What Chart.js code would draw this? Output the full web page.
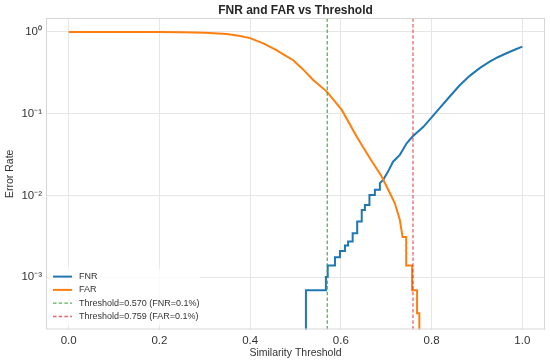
<!DOCTYPE html>
<html>
<head>
<meta charset="utf-8">
<script src="https://cdn.jsdelivr.net/npm/chart.js@4.4.0/dist/chart.umd.min.js"></script>
<style>
  html, body { margin: 0; padding: 0; background: #fff; }
</style>
</head>
<body>
<canvas id="errChart" width="550" height="362"></canvas>
<script>
// values (threshold sweep)
var fnrThresh = [0, 0.523, 0.523, 0.567, 0.567, 0.571, 0.571, 0.587, 0.587, 0.598, 0.598, 0.609, 0.609,
  0.616, 0.616, 0.626, 0.626, 0.636, 0.636, 0.646, 0.646, 0.653, 0.653, 0.663, 0.663, 0.675, 0.675,
  0.686, 0.686, 0.693, 0.704, 0.715, 0.730, 0.745, 0.758, 0.782, 0.811, 0.840, 0.862, 0.884, 0.906,
  0.928, 0.946, 0.965, 0.983, 1.0];
var fnrRate = [0, 0, 0.00069, 0.00069, 0.0010, 0.0010, 0.00138, 0.00138, 0.00175, 0.00175, 0.00209, 0.00209, 0.00243,
  0.00243, 0.00272, 0.00272, 0.00344, 0.00344, 0.00478, 0.00478, 0.0066, 0.0066, 0.0076, 0.0076, 0.0101, 0.0101, 0.0117,
  0.0117, 0.0141, 0.0154, 0.0195, 0.0258, 0.0313, 0.0434, 0.0524, 0.069, 0.106, 0.162, 0.222, 0.29, 0.36,
  0.432, 0.49, 0.548, 0.605, 0.66];

var farThresh = [0, 0.1, 0.2, 0.25, 0.3, 0.348, 0.375, 0.4, 0.43, 0.458, 0.475, 0.495, 0.515, 0.539, 0.569,
  0.602, 0.635, 0.664, 0.69, 0.712, 0.719, 0.730, 0.736, 0.744, 0.744, 0.757, 0.757, 0.768, 0.768,
  0.773, 0.773, 1.0];
var farRate = [1, 1, 0.995, 0.99, 0.975, 0.945, 0.90, 0.84, 0.72, 0.60, 0.525, 0.45, 0.355, 0.258, 0.186,
  0.111, 0.052, 0.0284, 0.017, 0.0096, 0.008, 0.005, 0.0031, 0.0031, 0.00138, 0.00138, 0.00069, 0.00069, 0.00036,
  0.00036, 0, 0];

var opThresh = [0.570, 0.759];
var opLabels = ['Threshold=0.570 (FNR=0.1%)', 'Threshold=0.759 (FAR=0.1%)'];

var xTicks = [0, 0.2, 0.4, 0.6, 0.8, 1.0];
var yTicks = [1e-3, 1e-2, 1e-1, 1];

var X_MIN = -0.05, X_MAX = 1.05;
var Y_MIN = 2.28e-4, Y_MAX = 1.48;

var FONT = "'Liberation Sans', Arial, sans-serif";
var SUP = { '0': '\u2070', '1': '\u00b9', '2': '\u00b2', '3': '\u00b3', '-': '\u207b' };

// zero rates fall off the log axis, like matplotlib's clipping
function toPoints(xs, ys) {
  return xs.map(function (x, i) {
    return { x: x, y: ys[i] > 0 ? ys[i] : 1e-9 };
  });
}

function vline(t) {
  return [{ x: t, y: Y_MIN }, { x: t, y: Y_MAX }];
}

// frame + in-axes legend (lower left, like the original)
var axesDecor = {
  id: 'axesDecor',
  afterLayout: function (chart) {
    // centre the title over the plot, not the canvas
    if (chart.titleBlock) {
      chart.titleBlock.left = chart.chartArea.left;
      chart.titleBlock.right = chart.chartArea.right;
    }
  },
  afterDatasetsDraw: function (chart) {
    var ctx = chart.ctx, a = chart.chartArea;
    ctx.save();
    ctx.strokeStyle = '#d6d6d6';
    ctx.lineWidth = 1;
    ctx.strokeRect(a.left + 0.5, a.top + 0.5, a.right - a.left - 1, a.bottom - a.top - 1);

    var rowH = 13.3;
    var sets = chart.data.datasets;
    var x0 = a.left + 7;
    var yLast = a.bottom - 13;
    var yFirst = yLast - rowH * (sets.length - 1);

    ctx.fillStyle = 'rgba(255,255,255,0.8)';
    ctx.fillRect(a.left + 2, yFirst - 8, 152, rowH * (sets.length - 1) + 17);

    ctx.font = '9px ' + FONT;
    ctx.textBaseline = 'middle';
    sets.forEach(function (ds, i) {
      var y = yFirst + i * rowH;
      ctx.beginPath();
      ctx.strokeStyle = ds.borderColor;
      ctx.lineWidth = ds.borderWidth;
      ctx.setLineDash(ds.borderDash || []);
      ctx.moveTo(x0, y);
      ctx.lineTo(x0 + 19, y);
      ctx.stroke();
      ctx.setLineDash([]);
      ctx.fillStyle = '#333';
      ctx.fillText(ds.label, x0 + 26, y);
    });
    ctx.restore();
  }
};

var errChart = new Chart(document.getElementById('errChart'), {
  type: 'line',
  data: {
    datasets: [{
      label: 'FNR',
      data: toPoints(fnrThresh, fnrRate),
      borderColor: '#1f77b4',
      borderWidth: 2,
      order: 4
    }, {
      label: 'FAR',
      data: toPoints(farThresh, farRate),
      borderColor: '#ff7f0e',
      borderWidth: 2,
      order: 3
    }, {
      label: opLabels[0],
      data: vline(opThresh[0]),
      borderColor: 'rgba(44,160,44,0.8)',
      borderWidth: 1.3,
      borderDash: [3.5, 2.2],
      order: 2
    }, {
      label: opLabels[1],
      data: vline(opThresh[1]),
      borderColor: 'rgba(214,39,40,0.7)',
      borderWidth: 1.3,
      borderDash: [3.5, 2.2],
      order: 1
    }]
  },
  options: {
    responsive: false,
    animation: false,
    devicePixelRatio: 1,
    elements: { point: { radius: 0 }, line: { tension: 0, fill: false } },
    layout: { padding: { left: 0, right: 5, top: 0, bottom: 0 } },
    plugins: {
      legend: { display: false },
      tooltip: { enabled: false },
      title: {
        display: true,
        text: 'FNR and FAR vs Threshold',
        color: '#262626',
        font: { family: FONT, size: 12, weight: 'bold' },
        padding: { top: 3, bottom: 0.6 }
      }
    },
    scales: {
      x: {
        type: 'linear',
        min: X_MIN,
        max: X_MAX,
        afterBuildTicks: function (scale) {
          scale.ticks = xTicks.map(function (v) { return { value: v }; });
        },
        afterFit: function (scale) { scale.height = 32.5; },
        ticks: {
          color: '#333',
          font: { family: FONT, size: 11.5 },
          padding: 4,
          maxRotation: 0,
          callback: function (v) { return Number(v).toFixed(1); }
        },
        grid: { color: '#e6e6e6', drawTicks: false },
        border: { display: false },
        title: {
          display: true,
          text: 'Similarity Threshold',
          color: '#333',
          font: { family: FONT, size: 10.5 },
          padding: { top: 0, bottom: 2.5 }
        }
      },
      y: {
        type: 'logarithmic',
        min: Y_MIN,
        max: Y_MAX,
        afterBuildTicks: function (scale) {
          scale.ticks = yTicks.map(function (v) { return { value: v }; });
        },
        afterFit: function (scale) { scale.width = 46; },
        ticks: {
          color: '#333',
          font: { family: FONT, size: 11.5 },
          padding: 4,
          callback: function (v) {
            var e = String(Math.round(Math.log10(v)));
            return '10' + e.split('').map(function (c) { return SUP[c]; }).join('');
          }
        },
        grid: { color: '#e6e6e6', drawTicks: false },
        border: { display: false },
        title: {
          display: true,
          text: 'Error Rate',
          color: '#333',
          font: { family: FONT, size: 10.5 },
          padding: { top: 4, bottom: 0 }
        }
      }
    }
  },
  plugins: [axesDecor]
});
</script>
</body>
</html>
